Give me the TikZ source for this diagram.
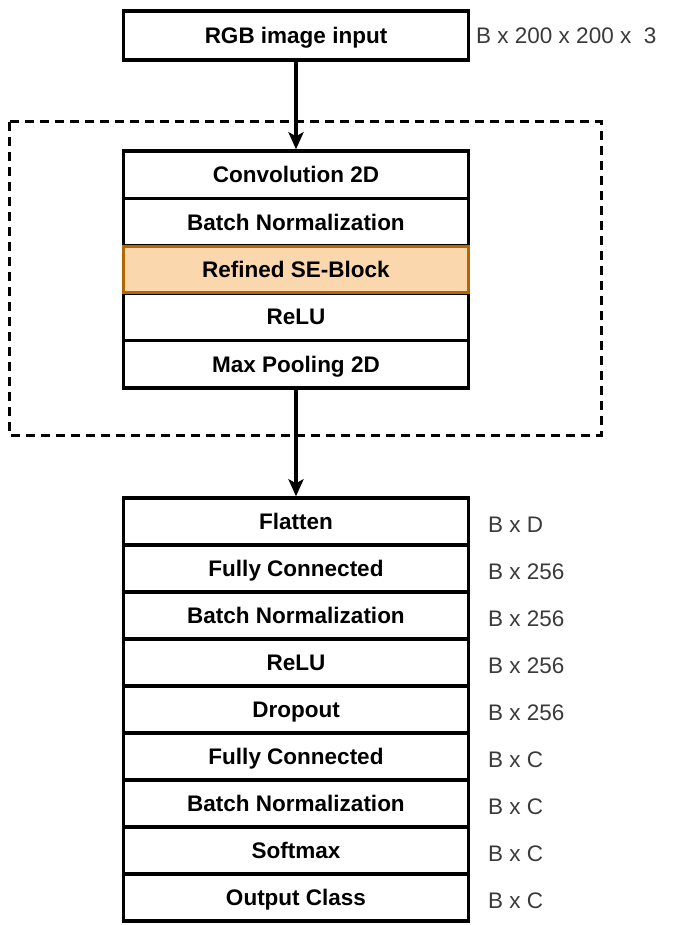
\documentclass[tikz,border=0pt]{standalone}
\usepackage{fontspec}
\setmainfont{Liberation Sans}
\usetikzlibrary{arrows.meta}
\definecolor{seFill}{HTML}{FAD7AC}
\definecolor{seLine}{HTML}{B46504}
\definecolor{dimGray}{HTML}{3A3A3A}
\begin{document}
\begin{tikzpicture}[x=1pt,y=-1pt,
  layer/.style={draw=black, line width=3.4pt, fill=white, minimum width=345pt,
    inner sep=0pt, text height=17pt, text depth=1pt,
    font=\fontsize{22.5}{25}\selectfont\bfseries},
  serow/.style={layer, draw=seLine, fill=seFill, line width=3pt},
  dimlabel/.style={anchor=west, inner sep=0pt, text=dimGray,
    text height=17pt, text depth=1pt,
    font=\fontsize{22.5}{25}\selectfont},
  flow/.style={line width=3.4pt, -{Stealth[length=17pt,width=15pt,inset=4pt]}},
  group/.style={draw=black, line width=3pt, dash pattern=on 9pt off 6pt}
]
\useasboundingbox (0,0) rectangle (673,925);

% dashed group
\draw[group] (9,122) rectangle (601,435);

% input
\node[layer, minimum height=49pt] (inp) at (296,35.5) {RGB image input};
\node[dimlabel] (linp) at (476,36) {B x 200 x 200 x \ 3};

% convolution block
\node[layer, minimum height=47.4pt] (c1) at (296,174.7) {Convolution 2D};
\node[layer, minimum height=47.4pt] (c2) at (296,222.1) {Batch Normalization};
\node[layer, minimum height=47.4pt] (c4) at (296,316.9) {ReLU};
\node[layer, minimum height=47.4pt] (c5) at (296,364.3) {Max Pooling 2D};
\node[serow, minimum height=46pt] (c3) at (296,269.5) {Refined SE-Block};

% classifier stack
\foreach \n/\t/\d [count=\i] in {
  f1/Flatten/B x D,
  f2/Fully Connected/B x 256,
  f3/Batch Normalization/B x 256,
  f4/ReLU/B x 256,
  f5/Dropout/B x 256,
  f6/Fully Connected/B x C,
  f7/Batch Normalization/B x C,
  f8/Softmax/B x C,
  f9/Output Class/B x C}{
  \node[layer, minimum height=47pt] (\n) at (296,{498+47*(\i-0.5)}) {\t};
  \node[dimlabel] (l\n) at (488,{501+47*(\i-0.5)}) {\d};
}

% connectors
\draw[flow] (inp.south) -- (c1.north);
\draw[flow] (c5.south) -- (f1.north);
\end{tikzpicture}
\end{document}
